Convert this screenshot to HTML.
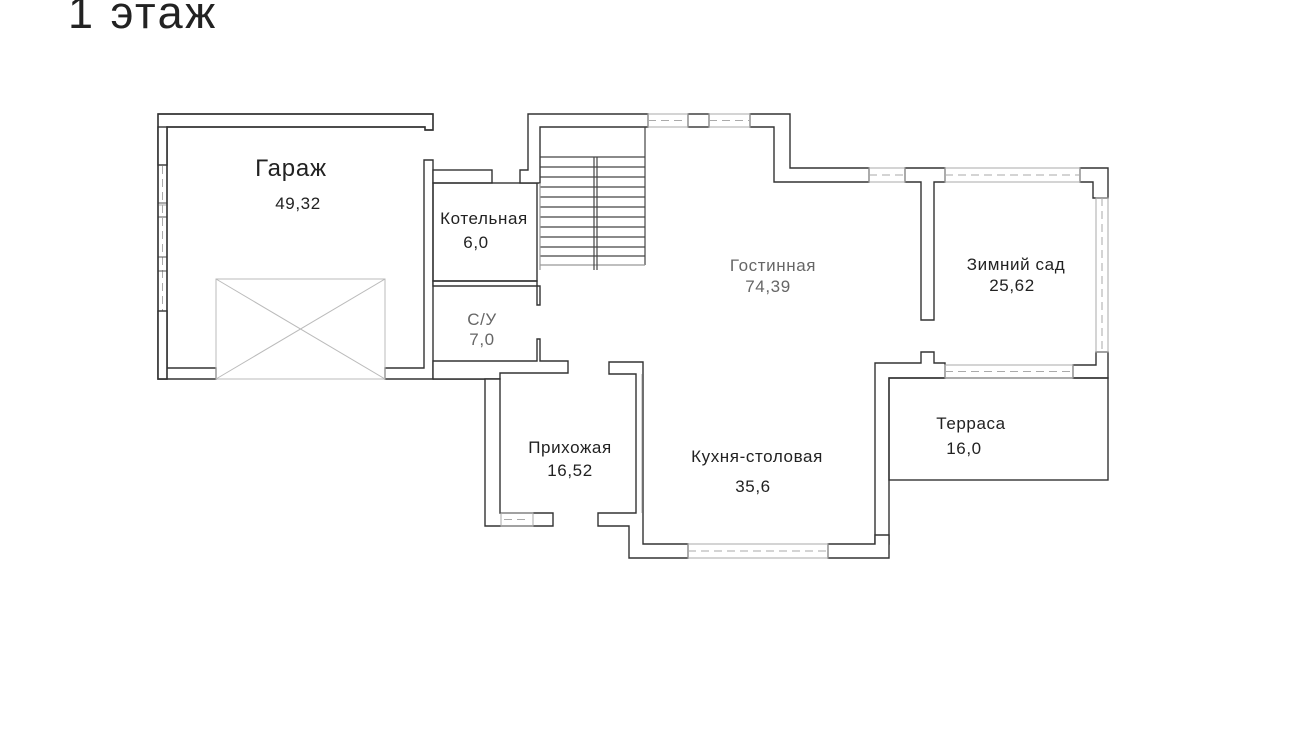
<!DOCTYPE html>
<html><head><meta charset="utf-8"><style>
html,body{margin:0;padding:0;background:#fff;width:1300px;height:731px;overflow:hidden}
svg{display:block}
text{font-family:"Liberation Sans","DejaVu Sans",sans-serif;fill:#222}
</style></head><body>
<svg width="1300" height="731" viewBox="0 0 1300 731" xmlns="http://www.w3.org/2000/svg">
<text x="68" y="28" font-size="45" letter-spacing="2.5" fill="#111">1 этаж</text>

<g fill="#fff" stroke="#333" stroke-width="1.4">
<polygon points="158,114 433,114 433,130 425,130 425,127 167,127 167,368 216,368 216,379 158,379"/>
<polygon points="385,368 424,368 424,160 433,160 433,379 385,379"/>
<polyline points="433,379 485,379" fill="none"/>
<rect x="433" y="170" width="59" height="13"/>
<polygon points="433,281 537,281 537,305 540,305 540,286 433,286"/>
<rect x="433" y="183" width="104" height="98" fill="none"/>
<polygon points="433,361 537,361 537,339 540,339 540,361 568,361 568,373 500,373 500,379 433,379"/>
<polygon points="485,379 500,379 500,513 553,513 553,526 485,526"/>
<polygon points="528,114 648,114 648,127 540,127 540,183 520,183 520,170 528,170"/>
<rect x="688" y="114" width="21" height="13"/>
<polygon points="750,114 790,114 790,168 869,168 869,182 774,182 774,127 750,127"/>
<polygon points="905,168 945,168 945,182 934,182 934,320 921,320 921,182 905,182"/>
<polygon points="1080,168 1108,168 1108,198 1093,198 1093,182 1080,182"/>
<polygon points="1096,352 1108,352 1108,378 1073,378 1073,365 1096,365"/>
<polygon points="875,363 921,363 921,352 934,352 934,363 945,363 945,378 889,378 889,544 875,544"/>
<rect x="889" y="378" width="219" height="102" fill="none"/>
<polygon points="828,544 875,544 875,535 889,535 889,558 828,558"/>
<polygon points="609,362 643,362 643,544 688,544 688,558 629,558 629,526 598,526 598,513 636,513 636,374 609,374"/>
</g>

<g stroke="#aaa" stroke-width="1" fill="none">
<rect x="648" y="114" width="40" height="13"/><rect x="709" y="114" width="41" height="13"/>
<rect x="869" y="168" width="36" height="14"/><rect x="945" y="168" width="135" height="14"/>
<rect x="1096" y="198" width="12" height="154"/><rect x="945" y="365" width="128" height="13"/>
<rect x="688" y="544" width="140" height="14"/><rect x="501" y="513" width="32" height="13"/>
<rect x="158" y="165" width="9" height="40"/><rect x="158" y="217" width="9" height="40"/><rect x="158" y="271" width="9" height="40"/>
<g stroke-dasharray="8,5">
<line x1="648" y1="120.5" x2="688" y2="120.5"/><line x1="709" y1="120.5" x2="750" y2="120.5"/>
<line x1="869" y1="175" x2="905" y2="175"/><line x1="945" y1="175" x2="1080" y2="175"/>
<line x1="1102" y1="198" x2="1102" y2="352"/><line x1="945" y1="371.5" x2="1073" y2="371.5"/>
<line x1="688" y1="551" x2="828" y2="551"/><line x1="504" y1="519.5" x2="530" y2="519.5"/>
<line x1="162.5" y1="127" x2="162.5" y2="368"/>
</g>
<rect x="158" y="203" width="9" height="14" stroke="#555"/><rect x="158" y="257" width="9" height="14" stroke="#555"/>
<line x1="642" y1="374" x2="642" y2="513"/>
</g>
<rect x="158" y="127" width="9" height="38" fill="#fff" stroke="#333" stroke-width="1.4"/>
<rect x="158" y="311" width="9" height="68" fill="#fff" stroke="#333" stroke-width="1.4"/>
<polygon points="158,114 433,114 433,130 425,130 425,127 167,127 167,379 158,379" fill="none" stroke="#333" stroke-width="1.4"/>

<g stroke="#bbb" stroke-width="1" fill="none">
<rect x="216" y="279" width="169" height="100"/>
<line x1="216" y1="279" x2="385" y2="379"/><line x1="385" y1="279" x2="216" y2="379"/>
</g>

<g stroke="#444" stroke-width="1.2" fill="none">
<line x1="645" y1="127" x2="645" y2="265"/>
<line x1="540" y1="157" x2="645" y2="157"/>
<line x1="540" y1="167" x2="645" y2="167"/><line x1="540" y1="177" x2="645" y2="177"/>
<line x1="540" y1="187" x2="645" y2="187"/><line x1="540" y1="197" x2="645" y2="197"/>
<line x1="540" y1="207" x2="645" y2="207"/><line x1="540" y1="217" x2="645" y2="217"/>
<line x1="540" y1="227" x2="645" y2="227"/><line x1="540" y1="237" x2="645" y2="237"/>
<line x1="540" y1="247" x2="645" y2="247"/><line x1="540" y1="256" x2="645" y2="256"/>
<line x1="540" y1="265" x2="645" y2="265" stroke="#999"/>
<line x1="594" y1="157" x2="594" y2="270"/><line x1="597" y1="157" x2="597" y2="270"/>
<line x1="540" y1="183" x2="540" y2="270" stroke="#999"/>
</g>

<g font-size="17" text-anchor="middle" letter-spacing="0.6">
<text x="291" y="176" font-size="24" letter-spacing="0.8">Гараж</text>
<text x="298" y="209">49,32</text>
<text x="484" y="224">Котельная</text>
<text x="476" y="248">6,0</text>
<text x="482" y="325" style="fill:#666">С/У</text>
<text x="482" y="345" style="fill:#666">7,0</text>
<text x="773" y="271" style="fill:#666">Гостинная</text>
<text x="768" y="292" style="fill:#666">74,39</text>
<text x="1016" y="270">Зимний сад</text>
<text x="1012" y="291">25,62</text>
<text x="971" y="429">Терраса</text>
<text x="964" y="454">16,0</text>
<text x="570" y="453">Прихожая</text>
<text x="570" y="476">16,52</text>
<text x="757" y="462">Кухня-столовая</text>
<text x="753" y="492">35,6</text>
</g>
</svg>
</body></html>
